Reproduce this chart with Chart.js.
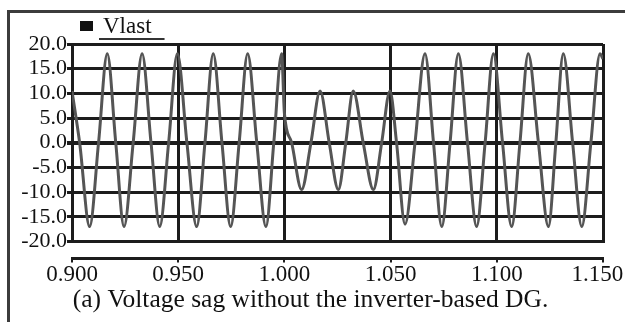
<!DOCTYPE html>
<html>
<head>
<meta charset="utf-8">
<script src="https://cdn.jsdelivr.net/npm/chart.js@4"></script>
<style>
    body { margin: 0; background: #fff; }
    #wrap { position: relative; width: 625px; height: 322px; overflow: hidden; }
    #frame { position: absolute; left: 7px; top: 10px; width: 700px; height: 400px;
             border-left: 3px solid #3c3c3c; border-top: 3px solid #3c3c3c; }
    #chart { position: absolute; left: 0; top: 0; }
</style>
</head>
<body>
<div id="wrap">
    <div id="frame"></div>
    <canvas id="chart" width="625" height="322"></canvas>
</div>
<script>
// 波形データ（グラフから読み取った時刻[s]と電圧値）
const times = [
    0.9000, 0.9036, 0.9083, 0.9125, 0.9166, 0.9206, 0.9245, 0.9288, 0.9330, 0.9372,
    0.9413, 0.9455, 0.9496, 0.9541, 0.9587, 0.9626, 0.9665, 0.9706, 0.9747, 0.9787,
    0.9827, 0.9870, 0.9913, 0.9950, 0.9987, 1.0000, 1.0034, 1.0081, 1.0125, 1.0168,
    1.0211, 1.0254, 1.0289, 1.0324, 1.0371, 1.0419, 1.0458, 1.0497, 1.0528, 1.0568,
    1.0615, 1.0662, 1.0702, 1.0741, 1.0780, 1.0819, 1.0862, 1.0905, 1.0945, 1.0984,
    1.1027, 1.1070, 1.1109, 1.1148, 1.1196, 1.1243, 1.1278, 1.1313, 1.1357, 1.1400,
    1.1443, 1.1486, 1.1500
];
const vlast = [
    10.5, 0, -17, 0, 18, 0, -17, 0, 18, 0,
    -17, 0, 18, 0, -17, 0, 18, 0, -17, 0,
    18, 0, -17, 0, 18, 6, 0, -9.5, 0, 10.5,
    0, -9.5, 0, 10.5, 0, -9.5, 0, 10.5, 0, -16.5,
    0, 18, 0, -17, 0, 18, 0, -17, 0, 18,
    0, -17, 0, 18, 0, -17, 0, 18, 0, -17,
    0, 18, 17
];

// 軸の設定
const xTicks = [0.900, 0.950, 1.000, 1.050, 1.100, 1.150];
const yTicks = [-20, -15, -10, -5, 0, 5, 10, 15, 20];
const seriesName = "Vlast";
const caption = "(a) Voltage sag without the inverter-based DG.";

const points = times.map((t, i) => ({ x: t, y: vlast[i] }));
const serif = "'Liberation Serif', 'Times New Roman', serif";
const gridColor = "#1c1c1c";

// 凡例（四角＋下線付きラベル）を描く
const legendPlugin = {
    id: "underlinedLegend",
    afterDraw(chart) {
        const ctx = chart.ctx;
        const area = chart.chartArea;
        const label = chart.data.datasets[0].label;
        const boxX = area.left + 8;
        const midY = 26;
        ctx.save();
        ctx.fillStyle = "#111";
        ctx.fillRect(boxX, midY - 5, 13, 10);
        ctx.font = "23px " + serif;
        ctx.textBaseline = "middle";
        ctx.textAlign = "left";
        const textX = boxX + 23;
        ctx.fillText(label, textX, midY + 1);
        const w = ctx.measureText(label).width;
        ctx.strokeStyle = "#333";
        ctx.lineWidth = 2;
        ctx.beginPath();
        ctx.moveTo(textX - 4, 39);
        ctx.lineTo(textX + w + 13, 39);
        ctx.stroke();
        ctx.restore();
    }
};

// 横軸の高さを固定し、ラベルによる余白の自動追加を止める
function fixXAxis(height) {
    return (scale) => {
        scale.height = height;
        scale.paddingLeft = 0;
        scale.paddingRight = 0;
    };
}

Chart.defaults.font.family = serif;
Chart.defaults.color = "#111";

const ctx = document.getElementById("chart").getContext("2d");
const chart = new Chart(ctx, {
    type: "line",
    data: {
        datasets: [{
            label: seriesName,
            data: points,
            borderColor: "#555",
            backgroundColor: "#111",
            borderWidth: 3,
            pointRadius: 0,
            fill: false,
            cubicInterpolationMode: "monotone"
        }]
    },
    options: {
        responsive: false,
        animation: false,
        devicePixelRatio: 1,
        layout: {
            autoPadding: false,
            padding: { left: 18, right: 22, top: 44, bottom: 0 }
        },
        plugins: {
            legend: { display: false },
            tooltip: { enabled: false },
            title: {
                display: true,
                text: caption,
                position: "bottom",
                color: "#111",
                font: { family: serif, size: 25.5, weight: "normal" },
                padding: { top: 0, bottom: 6 }
            }
        },
        scales: {
            x: {
                type: "linear",
                min: xTicks[0],
                max: xTicks[xTicks.length - 1],
                afterBuildTicks: (scale) => { scale.ticks = xTicks.map(v => ({ value: v })); },
                ticks: { display: false, autoSkip: false },
                grid: {
                    color: gridColor,
                    lineWidth: 3,
                    drawTicks: true,
                    tickLength: 17,
                    tickColor: "rgba(0,0,0,0)"
                },
                border: { display: true, color: gridColor, width: 3 },
                afterFit: fixXAxis(17)
            },
            x2: {
                type: "linear",
                position: "bottom",
                min: xTicks[0],
                max: xTicks[xTicks.length - 1],
                afterBuildTicks: (scale) => { scale.ticks = xTicks.map(v => ({ value: v })); },
                ticks: {
                    padding: -1,
                    font: { size: 23 },
                    color: "#111",
                    maxRotation: 0,
                    autoSkip: false,
                    // 最後のラベルは右端からはみ出さないよう少し左へ
                    callback: (v, i, arr) => Number(v).toFixed(3) + (i === arr.length - 1 ? "\u00a0\u00a0" : "")
                },
                grid: {
                    drawOnChartArea: false,
                    drawTicks: true,
                    tickLength: 4,
                    color: gridColor,
                    lineWidth: 2
                },
                border: { display: true, color: gridColor, width: 3 },
                afterFit: fixXAxis(27)
            },
            y: {
                type: "linear",
                min: yTicks[0],
                max: yTicks[yTicks.length - 1],
                afterBuildTicks: (scale) => { scale.ticks = yTicks.map(v => ({ value: v })); },
                ticks: {
                    padding: 0,
                    font: { size: 22 },
                    color: "#111",
                    autoSkip: false,
                    callback: (v) => Number(v).toFixed(1)
                },
                grid: {
                    color: gridColor,
                    lineWidth: (c) => (c.tick && c.tick.value === 0 ? 4 : 3),
                    drawTicks: true,
                    tickLength: 5,
                    tickColor: gridColor
                },
                border: { display: true, color: gridColor, width: 3 },
                afterFit: (scale) => { scale.width = 54; }
            }
        }
    },
    plugins: [legendPlugin]
});
</script>
</body>
</html>
